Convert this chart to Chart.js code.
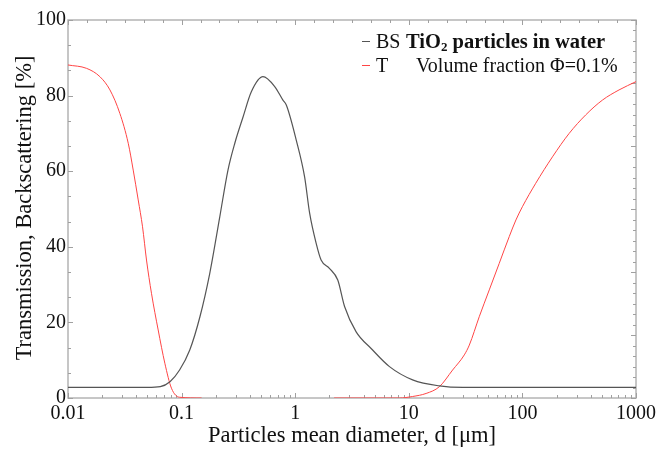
<!DOCTYPE html>
<html>
<head>
<meta charset="utf-8">
<script src="https://cdn.jsdelivr.net/npm/chart.js@4"></script>
<style>
html, body { margin: 0; padding: 0; background: #fff; }
</style>
</head>
<body>
<canvas id="chart" width="660" height="450"></canvas>
<script>
// backscattering (BS) curve
const bsDiameter = [0.01, 0.05, 0.065, 0.079, 0.096, 0.118, 0.145, 0.177, 0.217, 0.256, 0.294, 0.348, 0.411, 0.52,
    0.66, 0.78, 0.835, 1.02, 1.21, 1.34, 1.53, 1.69, 2.0, 2.37, 2.72, 3.44, 4.66, 6.76, 10.8, 18.6, 30, 1000];
const bsValues = [2.8, 2.8, 3.0, 4.3, 7.4, 12.7, 21.5, 33, 48, 60.3, 67.4, 74.4, 81, 85,
    82.4, 78.8, 77.5, 68.3, 58.5, 48.9, 40.9, 36.5, 34.3, 31.2, 24.2, 17.5, 13.1, 8.3, 4.8, 3.2, 2.8, 2.8];

// transmission (T) curve, null = no line drawn
const tDiameter = [0.01, 0.0146, 0.0191, 0.0234, 0.0286, 0.0339, 0.0375, 0.0415, 0.0453, 0.0491, 0.0543, 0.0622,
    0.0712, 0.0814, 0.096, 0.15, 0.6, 2.2, 8.26, 10.8, 14.2, 18.6, 24.3, 30.8, 34.1, 41.7, 51.1, 62.5, 76.6, 87.7,
    100, 131, 184, 258, 361, 506, 709, 1000];
const tValues = [88.1, 87.2, 85, 81.5, 75.3, 67.4, 60.3, 52.4, 45.3, 36.5, 27.7, 18,
    9.2, 2.6, 0.2, 0, null, 0, 0, 0.4, 1.2, 3.0, 7.4, 11.4, 14.0, 21.5, 28.6, 35.6, 42.7, 47.1,
    50.6, 56.8, 63.8, 70.0, 74.9, 78.8, 81.5, 83.7];

const xTickValues = [0.01, 0.1, 1, 10, 100, 1000];
const xTickLabels = ["0.01", "0.1", "1", "10", "100", "1000"];
const yTickValues = [0, 20, 40, 60, 80, 100];
const seriesNames = ["BS", "T"];
const seriesNotes = ["particles in water", "Volume fraction \u03A6=0.1%"];
const yTitle = "Transmission, Backscattering [%]";

const SERIF = "'Liberation Serif', 'Times New Roman', serif";
const BS_COLOR = "#555555";
const T_COLOR = "#ff4545";

var toPoints = function (xs, ys) {
    return xs.map(function (x, i) { return { x: x, y: ys[i] }; });
};

// box round the plot with short ticks pointing inwards
const framePlugin = {
    id: "frame",
    beforeDatasetsDraw(chart) {
        const { ctx, chartArea: a, scales } = chart;
        const xs = scales.x, ys = scales.y;
        ctx.save();
        ctx.strokeStyle = "#b4b4b4";
        ctx.lineWidth = 1.5;
        ctx.strokeRect(a.left, a.top, a.right - a.left, a.bottom - a.top);
        ctx.lineWidth = 1;
        ctx.strokeStyle = "#a0a0a0";
        ctx.beginPath();
        // bottom: log ticks
        for (let e = -2; e <= 3; e++) {
            for (let m = 1; m <= 9; m++) {
                const v = m * Math.pow(10, e);
                if (v > 1000) break;
                const px = Math.round(xs.getPixelForValue(v)) + 0.5;
                const len = m === 1 ? 5 : 3;
                ctx.moveTo(px, a.bottom);
                ctx.lineTo(px, a.bottom - len);
            }
        }
        // top: evenly spaced ticks, six per decade
        for (let k = 0; k <= 30; k++) {
            const px = Math.round(xs.getPixelForValue(Math.pow(10, -2 + k / 6))) + 0.5;
            const len = k % 6 === 0 ? 5 : 3;
            ctx.moveTo(px, a.top);
            ctx.lineTo(px, a.top + len);
        }
        // left: majors every 20, minors at thirds
        for (let k = 0; k <= 15; k++) {
            const py = Math.round(ys.getPixelForValue(k * 20 / 3)) + 0.5;
            const len = k % 3 === 0 ? 5 : 3;
            ctx.moveTo(a.left, py);
            ctx.lineTo(a.left + len, py);
        }
        // right: six parts, six ticks each
        for (let k = 0; k <= 36; k++) {
            const py = Math.round(ys.getPixelForValue(k * 100 / 36)) + 0.5;
            const len = k % 6 === 0 ? 5 : 3;
            ctx.moveTo(a.right, py);
            ctx.lineTo(a.right - len, py);
        }
        ctx.stroke();
        ctx.restore();
    }
};

// text legend in the upper right corner, and the rotated y title
const notePlugin = {
    id: "note",
    afterDraw(chart) {
        const ctx = chart.ctx;
        const a = chart.chartArea;
        const colors = [BS_COLOR, T_COLOR];
        const rows = [48, 72];
        ctx.save();
        ctx.fillStyle = "#111";
        ctx.textBaseline = "alphabetic";
        for (let i = 0; i < 2; i++) {
            ctx.strokeStyle = colors[i];
            ctx.lineWidth = 1;
            ctx.beginPath();
            ctx.moveTo(362, rows[i] - 6.5);
            ctx.lineTo(370, rows[i] - 6.5);
            ctx.stroke();
            ctx.font = "20px " + SERIF;
            ctx.fillText(seriesNames[i], 376, rows[i]);
        }
        // TiO2 with a lowered 2
        ctx.font = "bold 20.5px " + SERIF;
        let x = 406;
        ctx.fillText("TiO", x, rows[0]);
        x += ctx.measureText("TiO").width;
        ctx.font = "bold 13px " + SERIF;
        ctx.fillText("2", x, rows[0] + 3);
        x += ctx.measureText("2").width;
        ctx.font = "bold 20.5px " + SERIF;
        ctx.fillText(" " + seriesNotes[0], x, rows[0]);
        ctx.font = "20px " + SERIF;
        ctx.fillText(seriesNotes[1], 416, rows[1]);

        ctx.translate(25, (a.top + a.bottom) / 2 - 1);
        ctx.rotate(-Math.PI / 2);
        ctx.font = "22.5px " + SERIF;
        ctx.textAlign = "center";
        ctx.textBaseline = "middle";
        ctx.fillText(yTitle, 0, 0);
        ctx.restore();
    }
};

new Chart(document.getElementById("chart"), {
    type: "scatter",
    data: {
        datasets: [
            {
                label: seriesNames[0],
                data: toPoints(bsDiameter, bsValues),
                showLine: true,
                borderColor: BS_COLOR,
                borderWidth: 1.2,
                pointRadius: 0,
                cubicInterpolationMode: "monotone",
            },
            {
                label: seriesNames[1],
                data: toPoints(tDiameter, tValues),
                showLine: true,
                spanGaps: false,
                borderColor: T_COLOR,
                borderWidth: 1,
                pointRadius: 0,
                cubicInterpolationMode: "monotone",
            },
        ],
    },
    options: {
        responsive: false,
        animation: false,
        layout: { padding: { top: 20, right: 23, left: 0, bottom: 0 } },
        plugins: { legend: { display: false }, tooltip: { enabled: false } },
        scales: {
            x: {
                type: "logarithmic",
                min: 0.01,
                max: 1000,
                grid: { display: false, drawTicks: false },
                border: { display: false },
                afterBuildTicks: function (s) {
                    s.ticks = xTickValues.map(function (v) { return { value: v }; });
                },
                afterFit: function (s) { s.height = 52; },
                ticks: {
                    autoSkip: false,
                    maxRotation: 0,
                    padding: 4,
                    color: "#111",
                    font: { family: SERIF, size: 20 },
                    callback: function (v) {
                        const i = xTickValues.indexOf(v);
                        return i >= 0 ? xTickLabels[i] : "";
                    },
                },
                title: {
                    display: true,
                    text: "Particles mean diameter, d [\u03BCm]",
                    color: "#111",
                    font: { family: SERIF, size: 22.5 },
                    padding: { top: 0, bottom: 0 },
                },
            },
            y: {
                min: 0,
                max: 100,
                grid: { display: false, drawTicks: false },
                border: { display: false },
                afterBuildTicks: function (s) {
                    s.ticks = yTickValues.map(function (v) { return { value: v }; });
                },
                afterFit: function (s) { s.width = 68; },
                ticks: {
                    padding: 2,
                    color: "#111",
                    font: { family: SERIF, size: 20 },
                },
            },
        },
    },
    plugins: [framePlugin, notePlugin],
});
</script>
</body>
</html>
